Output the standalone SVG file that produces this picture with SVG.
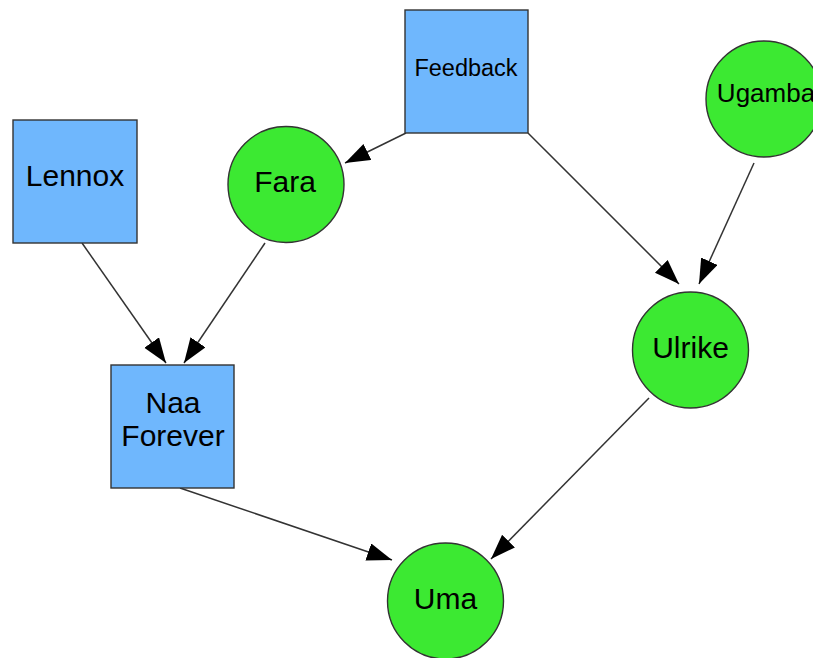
<svg xmlns="http://www.w3.org/2000/svg" width="813" height="658" viewBox="0 0 813 658">
<defs>
<style>
.box{fill:#6fb7fd;stroke:#333;stroke-width:1.4}
.circ{fill:#3ce932;stroke:#333;stroke-width:1.4}
.lbl{font-family:"Liberation Sans",Arial,sans-serif;font-size:30px;fill:#000;text-anchor:middle}
.edge{stroke:#333;stroke-width:1.5;fill:none;marker-end:url(#arr)}
</style>
<marker id="arr" markerUnits="userSpaceOnUse" markerWidth="27" markerHeight="19" refX="25" refY="9" orient="auto">
<path d="M0,0 L25,9 L0,18 z" fill="#000"/>
</marker>
</defs>
<rect width="813" height="658" fill="#fff"/>
<g id="connectors">
<line class="edge" x1="406" y1="133" x2="345" y2="163"/>
<line class="edge" x1="528" y1="133" x2="679" y2="284"/>
<line class="edge" x1="754" y1="163" x2="699" y2="284"/>
<line class="edge" x1="82" y1="243" x2="166" y2="363"/>
<line class="edge" x1="265" y1="243" x2="184" y2="363"/>
<line class="edge" x1="180" y1="488" x2="392" y2="560"/>
<line class="edge" x1="649" y1="398" x2="491" y2="559"/>
</g>
<g id="feedback">
<rect class="box" x="405" y="10" width="123" height="123"/>
<text class="lbl" x="466" y="76" style="font-size:23.5px">Feedback</text>
</g>
<g id="ugamba">
<circle class="circ" cx="764" cy="99" r="58"/>
<text class="lbl" x="766" y="102" style="font-size:26px">Ugamba</text>
</g>
<g id="lennox">
<rect class="box" x="13" y="120" width="124" height="123"/>
<text class="lbl" x="75" y="186">Lennox</text>
</g>
<g id="fara">
<circle class="circ" cx="286" cy="184.5" r="58"/>
<text class="lbl" x="285" y="192">Fara</text>
</g>
<g id="naa-forever">
<rect class="box" x="111" y="365" width="123" height="123"/>
<text class="lbl" x="173" y="413">Naa</text>
<text class="lbl" x="173" y="446">Forever</text>
</g>
<g id="ulrike">
<circle class="circ" cx="690.5" cy="350" r="58"/>
<text class="lbl" x="690.5" y="358">Ulrike</text>
</g>
<g id="uma">
<circle class="circ" cx="445.5" cy="601" r="58"/>
<text class="lbl" x="445.5" y="609">Uma</text>
</g>
</svg>
